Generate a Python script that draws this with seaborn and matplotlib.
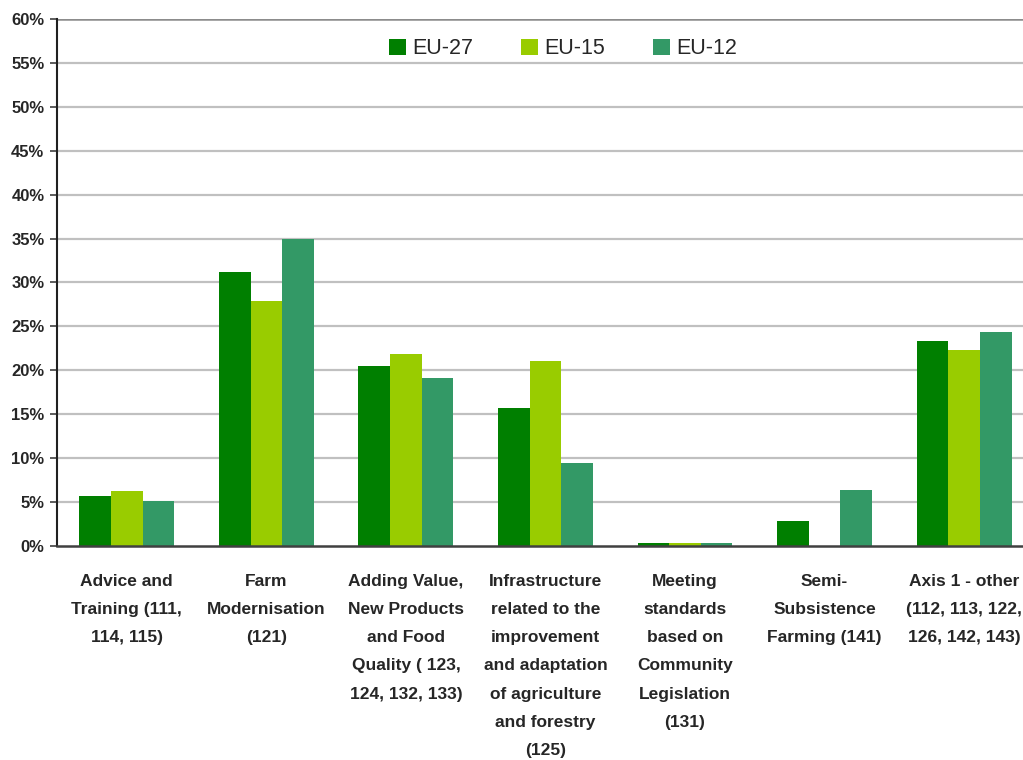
import numpy as np
import pandas as pd
import matplotlib
matplotlib.use("Agg")
import matplotlib.pyplot as plt
import seaborn as sns
from matplotlib.ticker import FixedLocator

# DATA
categories = [
    "Advice and\nTraining (111,\n114, 115)",
    "Farm\nModernisation\n(121)",
    "Adding Value,\nNew Products\nand Food\nQuality ( 123,\n124, 132, 133)",
    "Infrastructure\nrelated to the\nimprovement\nand adaptation\nof agriculture\nand forestry\n(125)",
    "Meeting\nstandards\nbased on\nCommunity\nLegislation\n(131)",
    "Semi-\nSubsistence\nFarming (141)",
    "Axis 1 - other\n(112, 113, 122,\n126, 142, 143)",
]
series = ["EU-27", "EU-15", "EU-12"]
eu27 = [5.7, 31.2, 20.5, 15.7, 0.3, 2.85, 23.35]
eu15 = [6.25, 27.9, 21.9, 21.1, 0.3, 0.0, 22.3]
eu12 = [5.15, 35.0, 19.1, 9.45, 0.3, 6.4, 24.4]
colors = ["#007f00", "#99cc00", "#339966"]

df = pd.DataFrame({
    "category": categories * 3,
    "series": np.repeat(series, len(categories)),
    "value": eu27 + eu15 + eu12,
})

sns.set_style("white")
plt.rcParams["font.family"] = ["Liberation Sans", "DejaVu Sans"]

fig = plt.figure(figsize=(10.23, 7.6), dpi=100)
ax = fig.add_axes([0.0557, 0.2816, 0.955, 0.6934])

sns.barplot(data=df, x="category", y="value", hue="series",
            palette=colors, width=0.68, saturation=1, linewidth=0,
            ax=ax, zorder=3)

# AXES
ax.set_xlim(-0.5, len(categories) - 0.5)
ax.set_ylim(0, 60)
yticks = np.arange(0, 61, 5)
ax.set_yticks(yticks)
ax.set_yticklabels([f"{t}%" for t in yticks], fontsize=12, fontweight="bold")
for y in yticks[1:-1]:
    ax.axhline(y, color="#c0c0c0", lw=1.6, zorder=1)
ax.axhline(60, color="#8c8c8c", lw=1.8, zorder=1)

ax.set_xticks(range(len(categories)))
ax.set_xticklabels(categories, fontsize=12.5, fontweight="bold", linespacing=2.1,
                   va="top")
ax.xaxis.set_minor_locator(FixedLocator(np.arange(-0.5, len(categories), 1)))
ax.tick_params(axis="x", which="major", length=0, pad=20)
ax.tick_params(axis="x", which="minor", length=6, width=1.2, color="#404040")
ax.tick_params(axis="y", length=5, width=1.2, color="#404040", pad=4, left=True)

for s in ["top", "right"]:
    ax.spines[s].set_visible(False)
ax.spines["left"].set_color("#202020")
ax.spines["left"].set_linewidth(1.5)
ax.spines["bottom"].set_color("#404040")
ax.spines["bottom"].set_linewidth(1.8)
ax.spines["bottom"].set_zorder(4)

ax.set_xlabel("")
ax.set_ylabel("")

ax.legend(loc="upper center", bbox_to_anchor=(0.518, 1.0), ncol=3, frameon=False,
          fontsize=15.5, handlelength=0.8, handleheight=0.8, handletextpad=0.3,
          columnspacing=2.2)

plt.savefig("out.png", dpi=100)
plt.close()
